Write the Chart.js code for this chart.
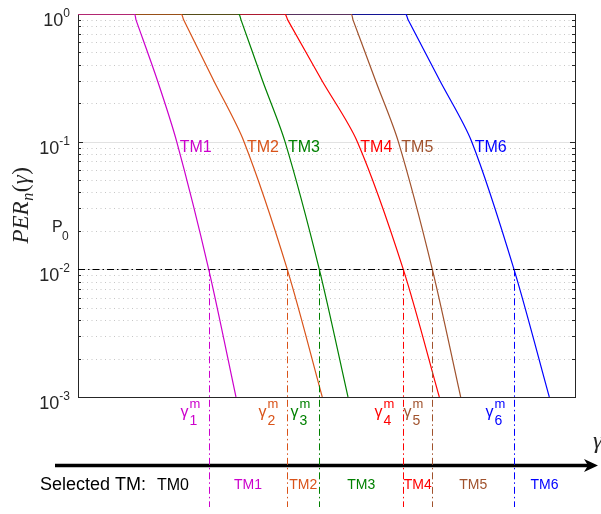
<!DOCTYPE html>
<html>
<head>
<meta charset="utf-8">
<script src="https://cdn.jsdelivr.net/npm/chart.js@4/dist/chart.umd.min.js"></script>
<style>
  html, body { margin: 0; padding: 0; background: #fff; }
  canvas { display: block; }
</style>
</head>
<body>
<canvas id="per" width="601" height="514"></canvas>
<script>
// Transmission modes and their packet-error-rate curves PER_n(gamma)
const modeNames  = ['TM1', 'TM2', 'TM3', 'TM4', 'TM5', 'TM6'];
const modeColors = ['#cc00cc', '#d95319', '#008000', '#ff0000', '#a0522d', '#0000ff'];

const tm1Gamma = [0, 11.27, 11.67, 16.00, 19.86, 26.30, 31.79];
const tm1Per   = [1, 1, 0.9, 0.3, 0.1, 0.01, 0.001];
const tm2Gamma = [0, 20.66, 21.25, 27.32, 33.40, 42.11, 49.15];
const tm2Per   = [1, 1, 0.9, 0.3, 0.1, 0.01, 0.001];
const tm3Gamma = [0, 32.25, 32.80, 37.14, 41.65, 48.55, 54.33];
const tm3Per   = [1, 1, 0.9, 0.3, 0.1, 0.01, 0.001];
const tm4Gamma = [0, 41.51, 42.19, 49.10, 56.20, 65.45, 72.70];
const tm4Per   = [1, 1, 0.9, 0.3, 0.1, 0.01, 0.001];
const tm5Gamma = [0, 54.87, 55.33, 59.88, 64.45, 71.29, 77.00];
const tm5Per   = [1, 1, 0.9, 0.3, 0.1, 0.01, 0.001];
const tm6Gamma = [0, 65.79, 66.42, 72.82, 79.22, 87.73, 94.83];
const tm6Per   = [1, 1, 0.9, 0.3, 0.1, 0.01, 0.001];

const modeGamma = [tm1Gamma, tm2Gamma, tm3Gamma, tm4Gamma, tm5Gamma, tm6Gamma];
const modePer   = [tm1Per, tm2Per, tm3Per, tm4Per, tm5Per, tm6Per];

// Target packet error rate P0
const targetPer = 0.01;
// Level at which the mode names are written next to the curves
const nameLevel = 0.1;

// Y axis: decades and their exponents
const yTickValues    = [1, 0.1, 0.01, 0.001];
const yTickExponents = ['0', '-1', '-2', '-3'];

// Mode selected on each SNR interval
const selectedLabels = ['TM0', 'TM1', 'TM2', 'TM3', 'TM4', 'TM5', 'TM6'];

// gamma_n^m : SNR where mode n reaches P0
const gammaM = modeGamma.map((g, i) => g[modePer[i].indexOf(targetPer)]);
const gammaName = modeGamma.map((g, i) => g[modePer[i].indexOf(nameLevel)]);

const SANS = '"Liberation Sans", Arial, sans-serif';
const SERIF = '"Liberation Serif", "Times New Roman", serif';
const AXIS = '#262626';

function dashedLine(ctx, x1, y1, x2, y2, color, dash) {
  ctx.save();
  ctx.strokeStyle = color;
  ctx.lineWidth = 1;
  ctx.setLineDash(dash);
  ctx.beginPath();
  ctx.moveTo(x1, y1);
  ctx.lineTo(x2, y2);
  ctx.stroke();
  ctx.restore();
}

const decorations = {
  id: 'decorations',
  beforeDatasetsDraw(chart) {
    const { ctx, chartArea: a, scales: { y } } = chart;
    ctx.save();
    // dotted minor grid
    ctx.strokeStyle = '#c6c6c6';
    ctx.lineWidth = 1;
    ctx.setLineDash([1, 3.5]);
    for (let d = 0; d < yTickValues.length - 1; d++) {
      const base = yTickValues[d + 1];
      for (let k = 2; k <= 9; k++) {
        const py = Math.round(y.getPixelForValue(k * base)) + 0.5;
        ctx.beginPath();
        ctx.moveTo(a.left, py);
        ctx.lineTo(a.right, py);
        ctx.stroke();
      }
    }
    // solid major grid
    ctx.setLineDash([]);
    ctx.strokeStyle = '#e2e2e2';
    yTickValues.slice(1, -1).forEach(v => {
      const py = Math.round(y.getPixelForValue(v)) + 0.5;
      ctx.beginPath();
      ctx.moveTo(a.left, py);
      ctx.lineTo(a.right, py);
      ctx.stroke();
    });

    // axes box
    ctx.strokeStyle = AXIS;
    ctx.lineWidth = 1;
    ctx.strokeRect(Math.round(a.left) + 0.5, Math.round(a.top) + 0.5,
                   Math.round(a.right - a.left), Math.round(a.bottom - a.top));

    // inward ticks on both sides
    ctx.beginPath();
    for (let d = 0; d < yTickValues.length; d++) {
      const py = Math.round(y.getPixelForValue(yTickValues[d])) + 0.5;
      ctx.moveTo(a.left, py); ctx.lineTo(a.left + 5, py);
      ctx.moveTo(a.right, py); ctx.lineTo(a.right - 5, py);
      if (d < yTickValues.length - 1) {
        for (let k = 2; k <= 9; k++) {
          const pm = Math.round(y.getPixelForValue(k * yTickValues[d + 1])) + 0.5;
          ctx.moveTo(a.left, pm); ctx.lineTo(a.left + 3, pm);
          ctx.moveTo(a.right, pm); ctx.lineTo(a.right - 3, pm);
        }
      }
    }
    ctx.stroke();
    ctx.restore();
  },
  afterDatasetsDraw(chart) {
    const { ctx, chartArea: a, scales: { x, y } } = chart;
    const dashDot = [7, 3, 1.5, 3];
    const yP0 = y.getPixelForValue(targetPer);
    const lineBottom = 507;
    const arrowY = 465.5;

    ctx.save();

    // P0 reference line
    dashedLine(ctx, a.left, Math.round(yP0) + 0.5, a.right, Math.round(yP0) + 0.5, '#000', dashDot);

    // tick labels 10^e
    ctx.fillStyle = AXIS;
    ctx.textBaseline = 'alphabetic';
    ctx.textAlign = 'left';
    yTickValues.forEach((v, i) => {
      const py = y.getPixelForValue(v);
      const xr = a.left - 8;
      ctx.font = '12px ' + SANS;
      const ew = ctx.measureText(yTickExponents[i]).width;
      ctx.fillText(yTickExponents[i], xr - ew, py + 3);
      ctx.font = '18px ' + SANS;
      const bw = ctx.measureText('10').width;
      ctx.fillText('10', xr - ew - bw, py + 12);
    });

    // P0 label
    ctx.font = '16px ' + SANS;
    ctx.fillText('P', 52, yP0 - 37);
    ctx.font = '12px ' + SANS;
    ctx.fillText('0', 62, yP0 - 29);

    // y axis title PER_n(gamma)
    ctx.save();
    ctx.translate(21, 205);
    ctx.rotate(-Math.PI / 2);
    const parts = [
      { t: 'PER', f: 'italic 23px ' + SERIF, dy: 0 },
      { t: 'n', f: 'italic 16px ' + SERIF, dy: 5 },
      { t: '(', f: '23px ' + SERIF, dy: 0 },
      { t: 'γ', f: 'italic 23px ' + SERIF, dy: 0 },
      { t: ')', f: '23px ' + SERIF, dy: 0 }
    ];
    let total = 0;
    parts.forEach(p => { ctx.font = p.f; p.w = ctx.measureText(p.t).width; total += p.w + 0.5; });
    let px = -total / 2;
    ctx.fillStyle = '#222';
    parts.forEach(p => { ctx.font = p.f; ctx.fillText(p.t, px, 7 + p.dy); px += p.w + 0.5; });
    ctx.restore();

    // mode names beside the curves
    ctx.font = '16px ' + SANS;
    modeNames.forEach((n, i) => {
      ctx.fillStyle = modeColors[i];
      ctx.fillText(n, x.getPixelForValue(gammaName[i]) + 3, y.getPixelForValue(nameLevel) + 10);
    });

    // SNR axis arrow
    ctx.strokeStyle = '#000';
    ctx.lineWidth = 3.5;
    ctx.setLineDash([]);
    ctx.beginPath();
    ctx.moveTo(55, arrowY);
    ctx.lineTo(589, arrowY);
    ctx.stroke();
    ctx.fillStyle = '#000';
    ctx.beginPath();
    ctx.moveTo(598, arrowY);
    ctx.lineTo(584, arrowY - 6.5);
    ctx.lineTo(588, arrowY);
    ctx.lineTo(584, arrowY + 6.5);
    ctx.closePath();
    ctx.fill();
    ctx.font = 'italic 24px ' + SERIF;
    ctx.fillStyle = AXIS;
    ctx.fillText('γ', 593, 448);

    // thresholds gamma_n^m
    modeNames.forEach((n, i) => {
      const gx = Math.round(x.getPixelForValue(gammaM[i])) + 0.5;
      dashedLine(ctx, gx, yP0, gx, lineBottom, modeColors[i], dashDot);
      const lx = gx - 29;
      ctx.fillStyle = modeColors[i];
      ctx.font = '16px ' + SANS;
      ctx.fillText('γ', lx, 416.5);
      ctx.font = '13px ' + SANS;
      ctx.fillText('m', lx + 9, 408);
      ctx.font = '14px ' + SANS;
      ctx.fillText(String(i + 1), lx + 9, 425);
    });

    // selected mode on each interval
    ctx.fillStyle = '#000';
    ctx.font = '18px ' + SANS;
    ctx.fillText('Selected TM:', 40, 490);
    ctx.font = '16px ' + SANS;
    ctx.fillText(selectedLabels[0], 157, 490);
    ctx.font = '14px ' + SANS;
    ctx.textAlign = 'center';
    const bounds = gammaM.concat([x.max]);
    for (let i = 1; i < selectedLabels.length; i++) {
      const cx = (x.getPixelForValue(bounds[i - 1]) + x.getPixelForValue(bounds[i])) / 2;
      ctx.fillStyle = modeColors[i - 1];
      ctx.fillText(selectedLabels[i], cx, 489);
    }
    ctx.restore();
  }
};

new Chart(document.getElementById('per'), {
  type: 'line',
  data: {
    datasets: modeNames.map((n, i) => ({
      label: n,
      data: modeGamma[i].map((g, j) => ({ x: g, y: modePer[i][j] })),
      borderColor: modeColors[i],
      borderWidth: 1.2,
      pointRadius: 0,
      fill: false,
      tension: 0.3
    }))
  },
  options: {
    responsive: false,
    animation: false,
    devicePixelRatio: 1,
    layout: { padding: { left: 78, right: 26, top: 14, bottom: 117 } },
    plugins: { legend: { display: false }, tooltip: { enabled: false } },
    scales: {
      x: { type: 'linear', min: 0, max: 100, display: false },
      y: { type: 'logarithmic', min: 0.001, max: 1, display: false }
    }
  },
  plugins: [decorations]
});
</script>
</body>
</html>
